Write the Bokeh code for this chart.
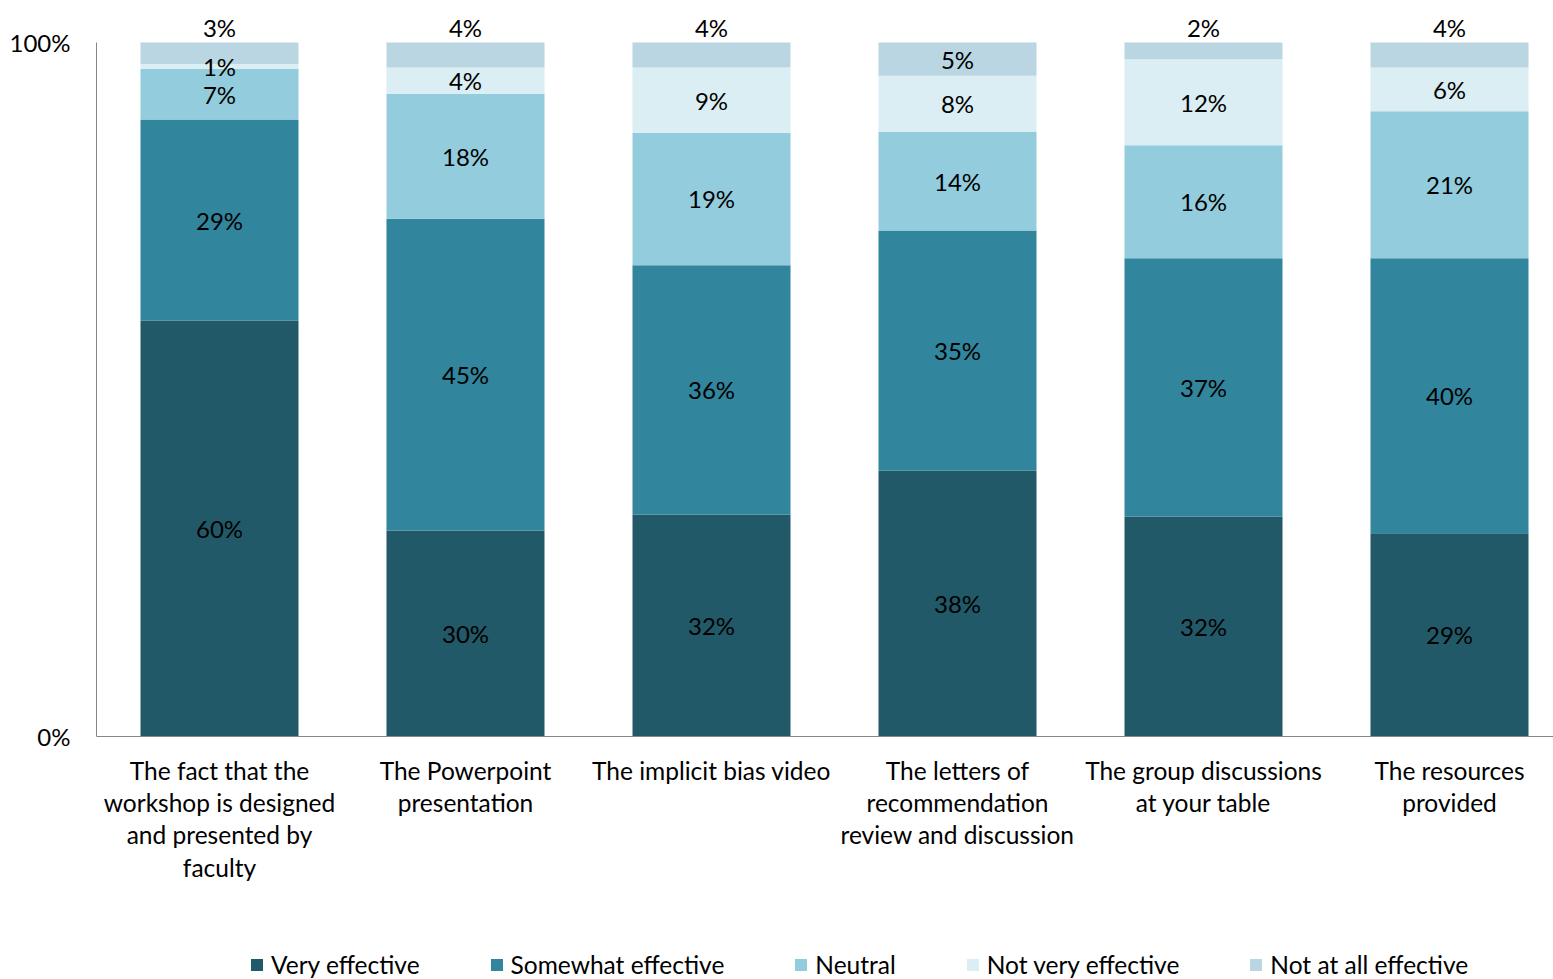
from bokeh.plotting import figure
from bokeh.models import ColumnDataSource, Range1d, Legend, LegendItem, FixedTicker, Span
from bokeh.core.properties import value
from bokeh.embed import file_html
from bokeh.resources import INLINE

categories = [
    "The fact that the\nworkshop is designed\nand presented by\nfaculty",
    "The Powerpoint\npresentation",
    "The implicit bias video",
    "The letters of\nrecommendation\nreview and discussion",
    "The group discussions\nat your table",
    "The resources\nprovided",
]
very_effective = [59.9, 29.7, 32.0, 38.3, 31.7, 29.3]
somewhat_effective = [29.0, 44.9, 35.9, 34.6, 37.2, 39.6]
neutral = [7.3, 18.0, 19.1, 14.2, 16.3, 21.2]
not_very_effective = [0.7, 3.8, 9.4, 8.1, 12.4, 6.3]
not_at_all_effective = [3.1, 3.6, 3.6, 4.8, 2.4, 3.6]
series_names = ["Very effective", "Somewhat effective", "Neutral",
                "Not very effective", "Not at all effective"]
colors = ["#215968", "#31859C", "#93CDDD", "#DAEEF3", "#B9D6E2"]
# whether the top segment's label sits above the bar
top_label_outside = [True, True, True, False, True, True]
y_ticks = [0, 100]
y_tick_labels = ["0%", "100%"]

FONT = "Lato"
FS_NUM = "24px"
FS_TXT = "24.5px"
AXIS_COLOR = "#868686"

series = [very_effective, somewhat_effective, neutral, not_very_effective, not_at_all_effective]
xs = list(range(len(categories)))

PX_PER_UNIT = 6.94
p = figure(width=1553, height=979, output_backend="svg", toolbar_location=None,
           x_range=Range1d(-0.5, -0.5 + 1457 / 246),
           y_range=Range1d(-243 / PX_PER_UNIT, 726 / PX_PER_UNIT),
           min_border_left=96, min_border_right=0, min_border_top=10, min_border_bottom=0)
p.outline_line_color = None
p.xgrid.visible = False
p.ygrid.visible = False
p.xaxis.visible = False

bottoms = [0.0] * len(xs)
renderers = []
lab_x, lab_y, lab_t = [], [], []
n_series = len(series)
for si, vals in enumerate(series):
    tops = [b + v for b, v in zip(bottoms, vals)]
    src = ColumnDataSource(dict(x=xs, bottom=bottoms, top=tops))
    r = p.vbar(x="x", bottom="bottom", top="top", width=158 / 246, source=src,
               fill_color=colors[si], line_color=None)
    renderers.append(r)
    for i, v in enumerate(vals):
        lab_x.append(xs[i])
        if si == n_series - 1 and top_label_outside[i]:
            lab_y.append(tops[i] + 2.1)
        else:
            lab_y.append((bottoms[i] + tops[i]) / 2)
        lab_t.append(f"{round(v)}%")
    bottoms = tops

p.text(x=lab_x, y=lab_y, text=lab_t, text_font=value(FONT), text_font_size=FS_NUM,
       text_align="center", text_baseline="middle", text_color="#000000")

# x axis line and category labels
p.add_layout(Span(location=0, dimension="width", line_color=AXIS_COLOR, line_width=1))
p.text(x=xs, y=[0] * len(xs), text=categories, y_offset=19,
       text_font=value(FONT), text_font_size=FS_TXT, text_line_height=1.12,
       text_align="center", text_baseline="top", text_color="#000000")

ya = p.yaxis[0]
ya.ticker = FixedTicker(ticks=y_ticks)
ya.major_label_overrides = {t: l for t, l in zip(y_ticks, y_tick_labels)}
ya.bounds = (0, 100)
ya.major_tick_line_color = None
ya.minor_tick_line_color = None
ya.axis_line_color = AXIS_COLOR
ya.major_label_text_font = FONT
ya.major_label_text_font_size = FS_NUM
ya.major_label_text_color = "#000000"
ya.major_label_standoff = 20

legend = Legend(items=[LegendItem(label=n, renderers=[r]) for n, r in zip(series_names, renderers)],
                orientation="horizontal", location=(153, 0),
                label_text_font=FONT, label_text_font_size=FS_TXT, label_text_color="#000000",
                glyph_width=15, glyph_height=15, label_standoff=7, spacing=69,
                padding=0, margin=0, border_line_color=None, background_fill_alpha=0)
p.add_layout(legend, "center")

open("out.html", "w").write(file_html(p, INLINE))
